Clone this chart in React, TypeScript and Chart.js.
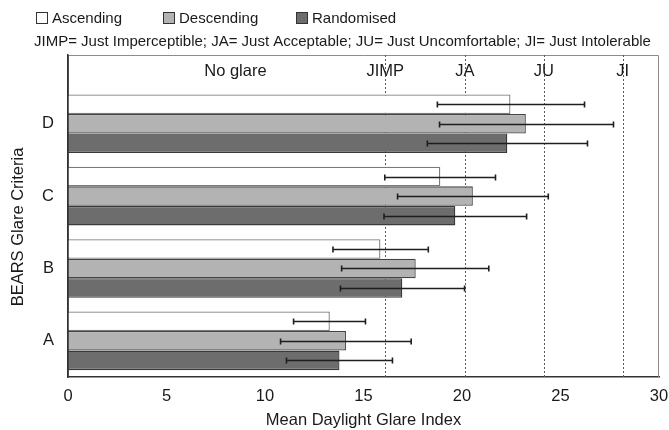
import React, { useEffect, useRef } from "react";
import { Chart, registerables } from "chart.js";

Chart.register(...registerables);

// ---- data ----
const criteria = ["A", "B", "C", "D"];
const seriesNames = ["Ascending", "Descending", "Randomised"];
const ascending = [13.29, 15.86, 18.9, 22.46];
const descending = [14.11, 17.65, 20.55, 23.24];
const randomised = [13.78, 16.97, 19.66, 22.3];
const ascLow = [11.45, 13.45, 16.08, 18.75];
const ascHigh = [15.1, 18.29, 21.7, 26.22];
const descLow = [10.79, 13.89, 16.73, 18.86];
const descHigh = [17.42, 21.36, 24.38, 27.69];
const randLow = [11.09, 13.83, 16.04, 18.24];
const randHigh = [16.47, 20.13, 23.28, 26.37];
const thresholdLabels = ["JIMP", "JA", "JU", "JI"];
const thresholdValues = [16.1, 20.15, 24.15, 28.15];
const noGlareLabel = "No glare";
const noGlareValue = 8.5;
const xMin = 0;
const xMax = 30;
const xStep = 5;
const xTitle = "Mean Daylight Glare Index";
const yTitle = "BEARS Glare Criteria";
const subtitle =
  "JIMP= Just Imperceptible; JA= Just Acceptable; JU= Just Uncomfortable; JI= Just Intolerable";

const FONT = "'Liberation Sans', Arial, sans-serif";
const fills = ["#ffffff", "#b3b3b3", "#6d6d6d"];
const borders = ["#7a7a7a", "#444444", "#3a3a3a"];

const values = [ascending, descending, randomised];
const lows = [ascLow, descLow, randLow];
const highs = [ascHigh, descHigh, randHigh];

const overlay = {
  id: "overlay",
  beforeDatasetsDraw(chart: any) {
    const { ctx, chartArea: a, scales } = chart;
    const xs = scales.x;
    ctx.save();
    // top & right frame
    ctx.strokeStyle = "#8c8c8c";
    ctx.lineWidth = 1;
    ctx.beginPath();
    ctx.moveTo(a.left, a.top + 0.5);
    ctx.lineTo(a.right - 0.5, a.top + 0.5);
    ctx.lineTo(a.right - 0.5, a.bottom);
    ctx.stroke();
    // threshold dashed lines
    ctx.strokeStyle = "#5a5a5a";
    ctx.setLineDash([2, 2]);
    thresholdValues.forEach((v) => {
      const px = Math.round(xs.getPixelForValue(v)) + 0.5;
      ctx.beginPath();
      ctx.moveTo(px, a.top);
      ctx.lineTo(px, a.bottom);
      ctx.stroke();
    });
    ctx.setLineDash([]);
    ctx.restore();
  },
  afterDatasetsDraw(chart: any) {
    const { ctx, chartArea: a, scales } = chart;
    const xs = scales.x;
    ctx.save();
    // error bars
    ctx.strokeStyle = "#1e1e1e";
    ctx.lineWidth = 1.6;
    chart.data.datasets.forEach((ds: any, di: number) => {
      const meta = chart.getDatasetMeta(di);
      meta.data.forEach((el: any, i: number) => {
        const y = Math.round(el.y) + 0.5;
        const x1 = xs.getPixelForValue(lows[di][i]);
        const x2 = xs.getPixelForValue(highs[di][i]);
        ctx.beginPath();
        ctx.moveTo(x1, y);
        ctx.lineTo(x2, y);
        ctx.moveTo(x1, y - 3);
        ctx.lineTo(x1, y + 3);
        ctx.moveTo(x2, y - 3);
        ctx.lineTo(x2, y + 3);
        ctx.stroke();
      });
    });
    // redraw left axis line on top of bars
    ctx.strokeStyle = "#333333";
    ctx.lineWidth = 1.5;
    ctx.beginPath();
    ctx.moveTo(a.left, a.top);
    ctx.lineTo(a.left, a.bottom);
    ctx.stroke();
    // zone labels
    ctx.fillStyle = "#1a1a1a";
    ctx.font = `16.5px ${FONT}`;
    ctx.textAlign = "center";
    ctx.textBaseline = "middle";
    const ly = a.top + 16.5;
    ctx.fillText(noGlareLabel, xs.getPixelForValue(noGlareValue), ly);
    thresholdLabels.forEach((t, i) => {
      ctx.fillText(t, xs.getPixelForValue(thresholdValues[i]), ly);
    });
    ctx.restore();
  },
  afterDraw(chart: any) {
    const { ctx, chartArea: a } = chart;
    ctx.save();
    ctx.fillStyle = "#1a1a1a";
    // legend
    const boxX = [36, 163, 296];
    ctx.font = `15px ${FONT}`;
    ctx.textAlign = "left";
    ctx.textBaseline = "middle";
    seriesNames.forEach((n, i) => {
      ctx.fillStyle = fills[i];
      ctx.fillRect(boxX[i], 12, 12, 12);
      ctx.strokeStyle = "#333";
      ctx.lineWidth = 1;
      ctx.strokeRect(boxX[i] + 0.5, 12.5, 11, 11);
      ctx.fillStyle = "#1a1a1a";
      ctx.fillText(n, boxX[i] + 16, 18.5);
    });
    // subtitle
    ctx.font = `15px ${FONT}`;
    ctx.fillText(subtitle, 34, 41.5);
    // x title
    ctx.font = `16.5px ${FONT}`;
    ctx.textAlign = "center";
    ctx.fillText(xTitle, (a.left + a.right) / 2, 420);
    // y title
    ctx.translate(18.5, 227);
    ctx.rotate(-Math.PI / 2);
    ctx.fillText(yTitle, 0, 0);
    ctx.restore();
  },
};

export default function App() {
  const ref = useRef<HTMLCanvasElement>(null);
  useEffect(() => {
    if (!ref.current) return;
    const chart = new Chart(ref.current, {
      type: "bar",
      data: {
        datasets: seriesNames.map((name, di) => ({
          label: name,
          data: values[di].map((v, i) => ({ x: v, y: i })),
          backgroundColor: fills[di],
          borderColor: borders[di],
          borderWidth: 1.3,
        })),
      },
      options: {
        indexAxis: "y",
        responsive: false,
        animation: false,
        layout: { padding: { left: 0, right: 0, top: 55, bottom: 0 } },
        datasets: { bar: { categoryPercentage: 0.81, barPercentage: 1 } },
        scales: {
          x: {
            type: "linear",
            min: xMin,
            max: xMax,
            ticks: {
              stepSize: xStep,
              font: { family: FONT, size: 16.5 },
              color: "#1a1a1a",
              padding: 10,
            },
            grid: { display: false, drawTicks: false },
            border: { display: true, color: "#333333", width: 1.5 },
            afterFit: (s: any) => {
              s.height = 53;
              s.paddingLeft = 0;
              s.paddingRight = 10;
            },
          },
          y: {
            type: "linear",
            min: -0.5,
            max: 3.95,
            offset: false,
            afterBuildTicks: (s: any) => {
              s.ticks = criteria.map((_, i) => ({ value: i }));
            },
            ticks: {
              callback: (v: any) => criteria[v as number] ?? "",
              font: { family: FONT, size: 16.5 },
              color: "#1a1a1a",
              padding: 14,
            },
            grid: { display: false, drawTicks: false, offset: false },
            border: { display: true, color: "#333333", width: 1.5 },
            afterFit: (s: any) => {
              s.width = 68;
              s.paddingTop = 0;
              s.paddingBottom = 0;
            },
          },
        },
        plugins: { legend: { display: false }, tooltip: { enabled: false } },
      },
      plugins: [overlay],
    } as any);
    return () => chart.destroy();
  }, []);
  return (
    <div style={{ position: "absolute", left: 0, top: 0, width: 669, height: 430, background: "#fff" }}>
      <canvas ref={ref} width={669} height={430} />
    </div>
  );
}
